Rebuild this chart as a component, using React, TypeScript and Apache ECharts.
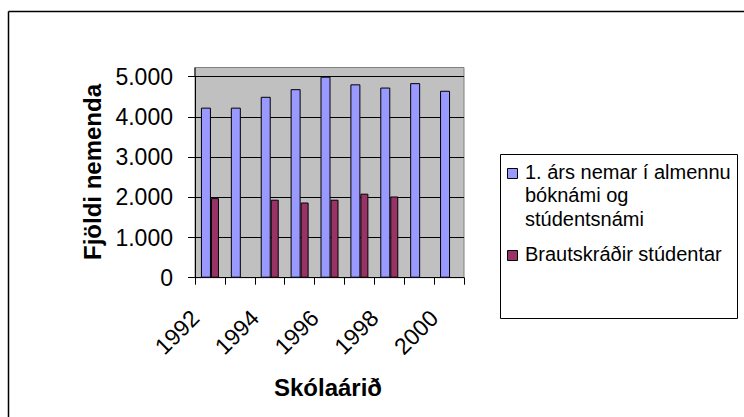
import React, { useEffect, useRef } from "react";
import * as echarts from "echarts";

const years = ["1992", "1993", "1994", "1995", "1996", "1997", "1998", "1999", "2000"];
const firstYearStudents = [4230, 4230, 4500, 4690, 5000, 4810, 4730, 4840, 4650];
const graduates = [1980, null, 1940, 1870, 1940, 2090, 2020, null, null];
const seriesNames = ["1. árs nemar í almennu bóknámi og stúdentsnámi", "Brautskráðir stúdentar"];
const legendLines = [["1. árs nemar í almennu", "bóknámi og", "stúdentsnámi"], ["Brautskráðir stúdentar"]];
const yTitle = "Fjöldi nemenda";
const xTitle = "Skólaárið";
const colors = ["#9999FF", "#993366"];

const FONT = "'Liberation Sans', Arial, sans-serif";

function fmt(v: number): string {
  return String(v).replace(/\B(?=(\d{3})+(?!\d))/g, ".");
}

export default function App() {
  const ref = useRef<HTMLDivElement>(null);
  useEffect(() => {
    document.body.style.margin = "0";
    const chart = echarts.init(ref.current!, null, { renderer: "svg" });
    const gridLeft = 195;
    const gridRight = 464;
    const gridTop = 76.7;
    const gridBottom = 277.7;
    chart.setOption({
      animation: false,
      backgroundColor: "#fff",
      textStyle: { fontFamily: FONT },
      grid: {
        left: gridLeft,
        right: 744 - gridRight,
        top: gridTop,
        bottom: 417 - gridBottom,
        containLabel: false,
      },
      xAxis: {
        type: "category",
        data: years,
        boundaryGap: true,
        axisLine: { show: true, lineStyle: { color: "#000", width: 1 } },
        axisTick: { show: true, interval: 0, length: 7, lineStyle: { color: "#000" } },
        axisLabel: {
          interval: 1,
          rotate: 45,
          margin: 40,
          padding: [0, 8, 0, 0],
          verticalAlign: "bottom",
          lineHeight: 26,
          color: "#000",
          fontSize: 23,
          fontFamily: FONT,
        },
        splitLine: { show: false },
      },
      yAxis: {
        type: "value",
        min: 0,
        max: 5000,
        interval: 1000,
        axisLine: { show: true, lineStyle: { color: "#000", width: 1 } },
        axisTick: { show: true, length: 7, lineStyle: { color: "#000" } },
        axisLabel: {
          margin: 22,
          color: "#000",
          fontSize: 23,
          fontFamily: FONT,
          formatter: (v: number) => fmt(v),
        },
        splitLine: { show: true, lineStyle: { color: "#000", width: 1 } },
      },
      series: [
        {
          name: seriesNames[0],
          type: "bar",
          data: firstYearStudents,
          barWidth: 10,
          barGap: "0%",
          itemStyle: { color: colors[0], borderColor: "#000", borderWidth: 1 },
        },
        {
          name: seriesNames[1],
          type: "bar",
          data: graduates,
          barWidth: 8,
          barGap: "0%",
          itemStyle: { color: colors[1], borderColor: "#000", borderWidth: 1 },
        },
      ],
      graphic: [
        {
          type: "rect",
          z: -100,
          silent: true,
          shape: { x: gridLeft, y: 67.5, width: gridRight - gridLeft, height: gridBottom - 67.5 },
          style: { fill: "#C0C0C0", stroke: "#808080", lineWidth: 1 },
        },
        {
          type: "line",
          silent: true,
          shape: { x1: gridLeft, y1: 67.5, x2: gridLeft, y2: gridTop },
          style: { stroke: "#000", lineWidth: 1 },
        },
        {
          type: "line",
          silent: true,
          shape: { x1: 8.5, y1: 11.5, x2: 744, y2: 11.5 },
          style: { stroke: "#000", lineWidth: 1.5 },
        },
        {
          type: "line",
          silent: true,
          shape: { x1: 8.5, y1: 11.5, x2: 8.5, y2: 417 },
          style: { stroke: "#000", lineWidth: 1.5 },
        },
        {
          type: "text",
          x: 92,
          y: 172,
          rotation: Math.PI / 2,
          style: {
            text: yTitle,
            font: `bold 24px ${FONT}`,
            fill: "#000",
            align: "center",
            verticalAlign: "middle",
          },
        },
        {
          type: "text",
          x: 328,
          y: 387,
          style: {
            text: xTitle,
            font: `bold 24px ${FONT}`,
            fill: "#000",
            align: "center",
            verticalAlign: "middle",
          },
        },
        {
          type: "rect",
          silent: true,
          shape: { x: 500.5, y: 154.5, width: 237, height: 164 },
          style: { fill: "#fff", stroke: "#000", lineWidth: 1 },
        },
        {
          type: "rect",
          shape: { x: 507.5, y: 168.5, width: 10, height: 10 },
          style: { fill: colors[0], stroke: "#000", lineWidth: 1 },
        },
        {
          type: "text",
          x: 525,
          y: 160.2,
          style: {
            text: legendLines[0].join("\n"),
            font: `20px ${FONT}`,
            lineHeight: 23.5,
            fill: "#000",
            align: "left",
            verticalAlign: "top",
          },
        },
        {
          type: "rect",
          shape: { x: 507.5, y: 250.5, width: 10, height: 10 },
          style: { fill: colors[1], stroke: "#000", lineWidth: 1 },
        },
        {
          type: "text",
          x: 525,
          y: 242,
          style: {
            text: legendLines[1].join("\n"),
            font: `20px ${FONT}`,
            lineHeight: 23.5,
            fill: "#000",
            align: "left",
            verticalAlign: "top",
          },
        },
      ],
    });
    return () => chart.dispose();
  }, []);
  return <div ref={ref} style={{ width: 744, height: 417 }} />;
}
